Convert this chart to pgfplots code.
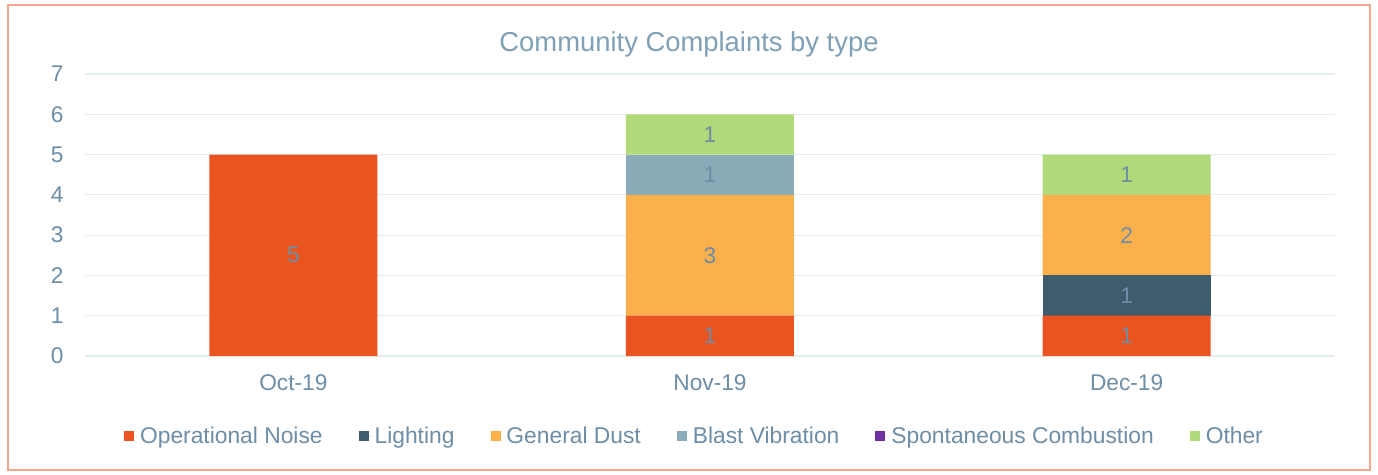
\documentclass[border=0pt]{standalone}
\usepackage{pgfplots}
\pgfplotsset{compat=1.18}
\usepackage{pgfplotstable}
\usepackage{fontspec}
\setmainfont{Liberation Sans}
\definecolor{cNoise}{HTML}{E95420}
\definecolor{cLight}{HTML}{3F5B6E}
\definecolor{cDust}{HTML}{FBB04C}
\definecolor{cBlast}{HTML}{8AACB8}
\definecolor{cSpont}{HTML}{7030A0}
\definecolor{cOther}{HTML}{B0DA7A}
\definecolor{cText}{HTML}{6E8DA6}
\definecolor{cTitle}{HTML}{7FA0B6}
\definecolor{cGrid}{HTML}{E2ECF1}
\definecolor{cFrame}{HTML}{F4A78E}
\pgfplotstableread{
x y
0 5
1 1
2 1
}\noise
\pgfplotstableread{
x y
0 0
1 0
2 1
}\lighting
\pgfplotstableread{
x y
0 0
1 3
2 2
}\dust
\pgfplotstableread{
x y
0 0
1 1
2 0
}\blast
\pgfplotstableread{
x y
0 0
1 0
2 0
}\spont
\pgfplotstableread{
x y
0 0
1 1
2 1
}\other
\begin{document}
\begin{tikzpicture}
\useasboundingbox (0,0) rectangle (1378pt,474pt);
\fill[white] (0,0) rectangle (1378pt,474pt);
\draw[cFrame, line width=2pt] (8pt,4pt) rectangle (1370pt,469pt);
\node[text=cTitle, font=\fontsize{27.4}{31}\selectfont] at (689pt,430pt) {Community Complaints by type};
\begin{axis}[
  at={(85pt,118pt)}, anchor=south west,
  scale only axis, width=1250pt, height=282pt,
  ybar stacked, bar width=168pt,
  xmin=-0.5, xmax=2.5, ymin=0, ymax=7,
  xtick=data, xticklabels={Oct-19,Nov-19,Dec-19},
  ytick={0,1,...,7},
  ymajorgrids, grid style={cGrid, line width=1.2pt},
  axis line style={draw=none},
  major tick length=0pt,
  tick label style={text=cText, font=\fontsize{22.7}{27}\selectfont},
  /pgf/number format/assume math mode=true,
  yticklabel style={xshift=-18pt},
  xticklabel style={yshift=-15pt},
  point meta=rawy,
  nodes near coords={\pgfmathfloatifflags{\pgfplotspointmeta}{0}{}{\pgfmathprintnumber{\pgfplotspointmeta}}},
  every node near coord/.append style={anchor=center, text=cText, font=\fontsize{22.7}{27}\selectfont},
  legend columns=6,
  legend style={at={(0.4876,-0.285)}, anchor=center, draw=none, fill=none,
    font=\fontsize{22.8}{27}\selectfont, text=cText,
    /tikz/every even column/.append style={column sep=34pt}},
  legend image code/.code={\fill[#1] (0pt,-5pt) rectangle (10pt,5pt); \path (0pt,0pt) -- (14pt,0pt);},
  legend cell align=left,
]
\addplot[fill=cNoise, draw=none] table {\noise};
\addplot[fill=cLight, draw=none] table {\lighting};
\addplot[fill=cDust, draw=none] table {\dust};
\addplot[fill=cBlast, draw=none] table {\blast};
\addplot[fill=cSpont, draw=none] table {\spont};
\addplot[fill=cOther, draw=none] table {\other};
\legend{Operational Noise, Lighting, General Dust, Blast Vibration, Spontaneous Combustion, Other}
\end{axis}
\end{tikzpicture}
\end{document}
